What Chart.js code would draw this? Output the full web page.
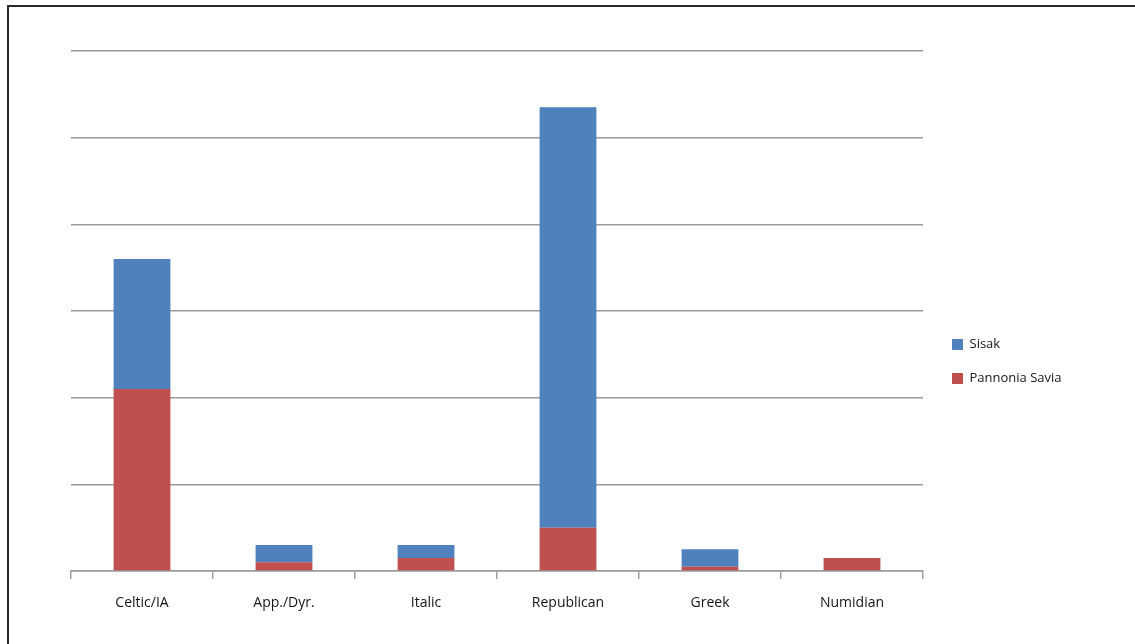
<!DOCTYPE html>
<html>
<head>
<meta charset="utf-8">
<script src="https://cdn.jsdelivr.net/npm/chart.js@4/dist/chart.umd.min.js"></script>
<style>
  html, body { margin: 0; padding: 0; background: #fff; }
  #wrap { position: relative; width: 1135px; height: 644px; overflow: hidden; }
  #frame { position: absolute; left: 7px; top: 5px; width: 1200px; height: 700px;
           border-left: 2px solid #2b2b2b; border-top: 2px solid #2b2b2b; pointer-events: none; }
  canvas { position: absolute; left: 0; top: 0; }
</style>
</head>
<body>
<div id="wrap">
  <canvas id="c" width="1135" height="644"></canvas>
  <div id="frame"></div>
</div>
<script>
const categories = ['Celtic/IA', 'App./Dyr.', 'Italic', 'Republican', 'Greek', 'Numidian'];
const sisak = [30, 4, 3, 97, 4, 0];
const pannoniaSavia = [42, 2, 3, 10, 1, 3];
const yMax = 120;
const yStep = 20;

const fontFamily = '"Open Sans", Lato, sans-serif';
const legendFont = { family: fontFamily, size: 13 };
const legendPad = 21;
const boxW = 11;
const mctx = document.createElement('canvas').getContext('2d');
mctx.font = legendFont.size + 'px ' + legendFont.family;
const textW = Math.max(mctx.measureText('Pannonia Savia').width, mctx.measureText('Sisak').width);
const legendW = legendPad + boxW + legendFont.size / 2 + textW + 10;
const legendLeft = 931;
const padRight = Math.max(0, 1135 - legendLeft - legendW);

new Chart(document.getElementById('c'), {
  type: 'bar',
  data: {
    labels: categories,
    datasets: [
      { label: 'Pannonia Savia', data: pannoniaSavia, backgroundColor: '#C0504D', borderWidth: 0 },
      { label: 'Sisak', data: sisak, backgroundColor: '#4F81BD', borderWidth: 0 }
    ]
  },
  options: {
    responsive: false,
    animation: false,
    layout: { padding: { left: 71, top: 51, right: padRight, bottom: 0 } },
    datasets: { bar: { categoryPercentage: 1.0, barPercentage: 0.4 } },
    plugins: {
      tooltip: { enabled: false },
      legend: {
        position: 'right',
        reverse: true,
        title: { display: true, text: '', padding: 8, font: { size: 10 } },
        labels: {
          boxWidth: boxW, boxHeight: boxW, padding: legendPad,
          color: '#151515', font: legendFont
        }
      }
    },
    scales: {
      x: {
        stacked: true,
        grid: { display: true, drawOnChartArea: false, drawTicks: true, tickLength: 8, color: '#a0a0a0', lineWidth: 1.5 },
        border: { display: true, color: '#9a9a9a', width: 1.5 },
        ticks: { color: '#151515', padding: 16, font: { family: fontFamily, size: 14 } },
        afterFit(s) { s.height = 644 - 571; }
      },
      y: {
        stacked: true,
        min: 0, max: yMax,
        ticks: { display: false, stepSize: yStep },
        grid: { color: '#9a9a9a', lineWidth: 1.5, drawTicks: false },
        border: { display: false },
        afterFit(s) { s.width = 0; }
      },
      yPad: {
        type: 'linear', position: 'right', display: true,
        grid: { display: false }, ticks: { display: false }, border: { display: false },
        afterFit(s) { s.width = 8; }
      }
    }
  }
});
</script>
</body>
</html>
